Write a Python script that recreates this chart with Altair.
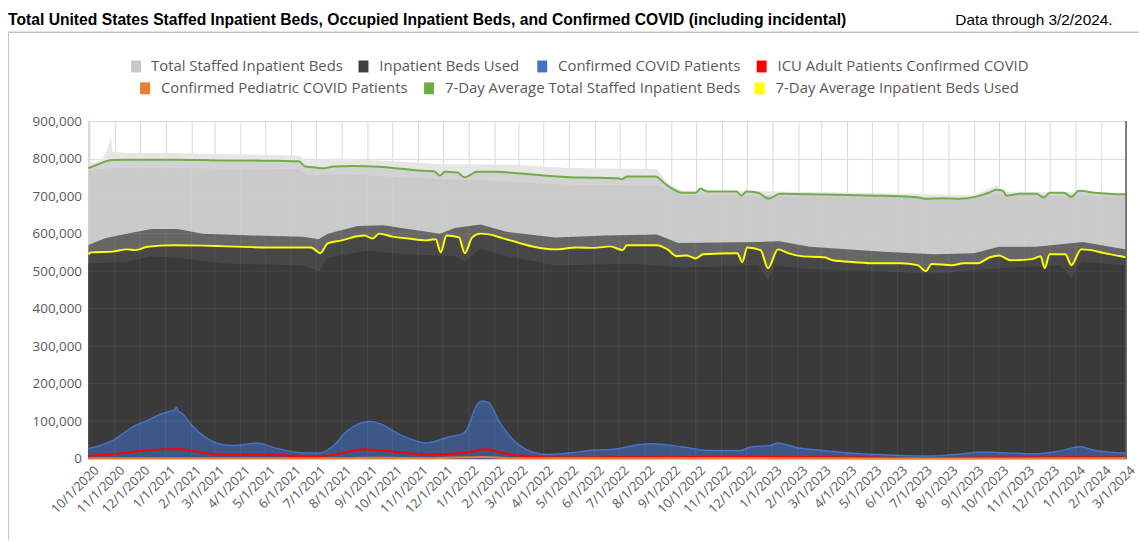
import altair as alt
import pandas as pd

# ---------------- text ----------------
TITLE = "Total United States Staffed Inpatient Beds, Occupied Inpatient Beds, and Confirmed COVID (including incidental)"
NOTE = "Data through 3/2/2024."
LEGEND_LABELS = [
    "Total Staffed Inpatient Beds", "Inpatient Beds Used", "Confirmed COVID Patients",
    "ICU Adult Patients Confirmed COVID", "Confirmed Pediatric COVID Patients",
    "7-Day Average Total Staffed Inpatient Beds", "7-Day Average Inpatient Beds Used",
]
TICK_DATES = [
    "2020-10-01", "2020-11-01", "2020-12-01", "2021-01-01", "2021-02-01", "2021-03-01",
    "2021-04-01", "2021-05-01", "2021-06-01", "2021-07-01", "2021-08-01", "2021-09-01",
    "2021-10-01", "2021-11-01", "2021-12-01", "2022-01-01", "2022-02-01", "2022-03-01",
    "2022-04-01", "2022-05-01", "2022-06-01", "2022-07-01", "2022-08-01", "2022-09-01",
    "2022-10-01", "2022-11-01", "2022-12-01", "2023-01-01", "2023-02-01", "2023-03-01",
    "2023-04-01", "2023-05-01", "2023-06-01", "2023-07-01", "2023-08-01", "2023-09-01",
    "2023-10-01", "2023-11-01", "2023-12-01", "2024-01-01", "2024-02-01", "2024-03-01",
]
Y_TICKS = [0, 100000, 200000, 300000, 400000, 500000, 600000, 700000, 800000, 900000]
X_DOMAIN = ["2020-09-30", "2024-03-02"]

# ---------------- data (thousands of beds) ----------------
TOTAL_HIGH = [
    ("2020-09-30", 785), ("2020-10-15", 795), ("2020-10-22", 820), ("2020-10-25", 840),
    ("2020-10-27", 860), ("2020-10-29", 818), ("2020-11-15", 815), ("2021-01-15", 815),
    ("2021-03-01", 812), ("2021-06-10", 808), ("2021-06-20", 795), ("2021-08-01", 800),
    ("2021-10-01", 793), ("2021-12-01", 785), ("2022-01-15", 785), ("2022-03-01", 783),
    ("2022-05-01", 775), ("2022-08-15", 772), ("2022-08-28", 735), ("2022-09-15", 714),
    ("2022-10-01", 713), ("2022-12-15", 713), ("2023-06-15", 706), ("2023-09-01", 702),
    ("2023-09-28", 728), ("2023-10-10", 712), ("2024-03-02", 709),
]
TOTAL_LOW = [
    ("2020-09-30", 770), ("2020-11-01", 775), ("2021-06-10", 772), ("2021-06-20", 755),
    ("2021-08-01", 758), ("2021-12-01", 745), ("2022-01-15", 742), ("2022-05-01", 730),
    ("2022-08-15", 728), ("2022-09-15", 703), ("2023-06-15", 697), ("2023-08-15", 690),
    ("2023-10-01", 705), ("2024-03-02", 698),
]
TOTAL_AVG7 = [
    ("2020-09-30", 775), ("2020-10-10", 783), ("2020-10-28", 796), ("2020-11-15", 797),
    ("2020-12-15", 797), ("2021-01-15", 797), ("2021-02-15", 796), ("2021-03-15", 795),
    ("2021-04-15", 795), ("2021-05-15", 794), ("2021-06-10", 793), ("2021-06-18", 779),
    ("2021-07-01", 776), ("2021-07-10", 774), ("2021-07-22", 779), ("2021-08-15", 780),
    ("2021-09-15", 778), ("2021-10-15", 772), ("2021-11-10", 767), ("2021-11-20", 766),
    ("2021-11-27", 755), ("2021-12-03", 765), ("2021-12-18", 763), ("2021-12-27", 750),
    ("2022-01-03", 757), ("2022-01-10", 765), ("2022-02-01", 765), ("2022-03-01", 761),
    ("2022-04-01", 755), ("2022-05-01", 750), ("2022-06-01", 749), ("2022-07-01", 747),
    ("2022-07-04", 745), ("2022-07-10", 752), ("2022-08-13", 752), ("2022-08-28", 728),
    ("2022-09-15", 709), ("2022-10-01", 709), ("2022-10-07", 720), ("2022-10-15", 712),
    ("2022-11-19", 712), ("2022-11-25", 701), ("2022-12-01", 712), ("2022-12-15", 709),
    ("2022-12-28", 693), ("2023-01-10", 706), ("2023-02-15", 705), ("2023-04-01", 703),
    ("2023-05-15", 701), ("2023-06-25", 697), ("2023-07-04", 693), ("2023-07-25", 694),
    ("2023-08-14", 693), ("2023-09-02", 698), ("2023-09-19", 709), ("2023-09-28", 717),
    ("2023-10-06", 714), ("2023-10-10", 701), ("2023-10-25", 706), ("2023-11-15", 706),
    ("2023-11-24", 696), ("2023-12-01", 709), ("2023-12-18", 709), ("2023-12-27", 698),
    ("2024-01-05", 714), ("2024-01-25", 709), ("2024-03-02", 704),
]
USED_HIGH = [
    ("2020-09-30", 570), ("2020-10-20", 588), ("2020-11-15", 600), ("2020-12-15", 612),
    ("2021-01-15", 612), ("2021-02-15", 600), ("2021-04-15", 595), ("2021-06-15", 592),
    ("2021-07-04", 585), ("2021-07-15", 600), ("2021-08-20", 620), ("2021-09-20", 622),
    ("2021-10-20", 612), ("2021-11-27", 600), ("2021-12-15", 615), ("2022-01-15", 624),
    ("2022-02-15", 605), ("2022-04-15", 590), ("2022-06-15", 595), ("2022-08-15", 598),
    ("2022-09-10", 575), ("2022-12-15", 578), ("2023-01-10", 580), ("2023-02-15", 565),
    ("2023-05-15", 552), ("2023-07-15", 545), ("2023-09-01", 548), ("2023-10-01", 565),
    ("2023-11-15", 565), ("2024-01-10", 578), ("2024-03-02", 558),
]
USED_LOW = [
    ("2020-09-30", 520), ("2020-11-15", 525), ("2020-12-15", 540), ("2021-01-15", 535),
    ("2021-03-15", 520), ("2021-06-15", 515), ("2021-07-05", 500), ("2021-07-15", 535),
    ("2021-09-01", 555), ("2021-10-15", 545), ("2021-12-15", 540), ("2021-12-27", 525),
    ("2022-01-15", 560), ("2022-02-15", 540), ("2022-04-15", 515), ("2022-07-15", 520),
    ("2022-09-15", 510), ("2022-12-15", 515), ("2022-12-27", 475), ("2023-01-05", 515),
    ("2023-02-15", 505), ("2023-05-15", 500), ("2023-07-15", 493), ("2023-09-15", 505),
    ("2023-10-15", 510), ("2023-12-15", 515), ("2023-12-27", 480), ("2024-01-05", 520),
    ("2024-01-10", 525), ("2024-03-02", 515),
]
USED_AVG7 = [
    ("2020-09-30", 545), ("2020-10-03", 550), ("2020-10-29", 552), ("2020-11-15", 558),
    ("2020-11-26", 556), ("2020-12-10", 565), ("2021-01-10", 569), ("2021-02-15", 568),
    ("2021-03-15", 566), ("2021-04-15", 564), ("2021-05-15", 563), ("2021-06-25", 563),
    ("2021-07-06", 548), ("2021-07-15", 574), ("2021-08-01", 582), ("2021-08-20", 593),
    ("2021-08-28", 595), ("2021-09-07", 587), ("2021-09-15", 600), ("2021-10-01", 592),
    ("2021-10-20", 587), ("2021-11-10", 582), ("2021-11-22", 585), ("2021-11-28", 550),
    ("2021-12-05", 595), ("2021-12-20", 590), ("2021-12-27", 548), ("2022-01-05", 590),
    ("2022-01-15", 600), ("2022-01-25", 598), ("2022-02-10", 588), ("2022-03-01", 576),
    ("2022-03-20", 565), ("2022-04-15", 558), ("2022-05-10", 563), ("2022-06-01", 562),
    ("2022-06-20", 566), ("2022-07-05", 556), ("2022-07-10", 569), ("2022-08-15", 569),
    ("2022-08-28", 558), ("2022-09-08", 540), ("2022-09-20", 542), ("2022-10-01", 534),
    ("2022-10-10", 545), ("2022-11-20", 548), ("2022-11-26", 524), ("2022-12-02", 563),
    ("2022-12-18", 556), ("2022-12-27", 508), ("2023-01-08", 558), ("2023-01-20", 548),
    ("2023-02-05", 540), ("2023-03-05", 537), ("2023-03-15", 529), ("2023-04-10", 524),
    ("2023-05-05", 521), ("2023-06-05", 521), ("2023-06-25", 516), ("2023-07-05", 500),
    ("2023-07-12", 519), ("2023-08-05", 516), ("2023-08-20", 521), ("2023-09-05", 521),
    ("2023-09-20", 537), ("2023-10-01", 542), ("2023-10-15", 529), ("2023-11-10", 532),
    ("2023-11-20", 540), ("2023-11-25", 508), ("2023-12-01", 545), ("2023-12-20", 545),
    ("2023-12-27", 516), ("2024-01-08", 558), ("2024-01-20", 556), ("2024-02-05", 548),
    ("2024-03-02", 537),
]
COVID = [
    ("2020-09-30", 27), ("2020-10-15", 36), ("2020-10-29", 48), ("2020-11-10", 66),
    ("2020-11-22", 84), ("2020-12-09", 101), ("2020-12-25", 118), ("2021-01-06", 126),
    ("2021-01-12", 131), ("2021-01-14", 138), ("2021-01-16", 128), ("2021-01-22", 118),
    ("2021-02-02", 88), ("2021-02-18", 57), ("2021-03-06", 40), ("2021-03-23", 35),
    ("2021-04-21", 41), ("2021-05-19", 25), ("2021-06-12", 16), ("2021-07-06", 15),
    ("2021-07-22", 35), ("2021-08-08", 75), ("2021-08-24", 95), ("2021-09-04", 99),
    ("2021-09-16", 93), ("2021-10-10", 64), ("2021-11-11", 42), ("2021-12-08", 58),
    ("2021-12-24", 66), ("2021-12-29", 76), ("2022-01-10", 141), ("2022-01-17", 154),
    ("2022-01-25", 149), ("2022-02-06", 101), ("2022-02-22", 53), ("2022-03-18", 18),
    ("2022-04-07", 11), ("2022-05-05", 16), ("2022-05-26", 22), ("2022-06-27", 26),
    ("2022-07-25", 38), ("2022-08-11", 40), ("2022-09-16", 31), ("2022-10-15", 22),
    ("2022-11-24", 22), ("2022-12-06", 31), ("2022-12-30", 35), ("2023-01-08", 42),
    ("2023-01-31", 29), ("2023-03-03", 22), ("2023-04-01", 16), ("2023-05-10", 11),
    ("2023-07-08", 7), ("2023-08-08", 11), ("2023-09-13", 18), ("2023-10-06", 16),
    ("2023-11-14", 13), ("2023-12-12", 20), ("2024-01-07", 32), ("2024-01-25", 22),
    ("2024-03-02", 15),
]
ICU_ADULT = [
    ("2020-09-30", 8), ("2020-10-29", 12), ("2020-11-27", 19), ("2020-12-09", 22),
    ("2021-01-10", 26), ("2021-01-20", 25), ("2021-02-10", 18), ("2021-03-06", 11),
    ("2021-04-21", 11), ("2021-05-19", 9), ("2021-06-30", 5), ("2021-07-28", 13),
    ("2021-08-28", 25), ("2021-09-16", 22), ("2021-10-10", 17), ("2021-11-11", 11),
    ("2021-12-29", 16), ("2022-01-20", 25), ("2022-02-14", 13), ("2022-03-18", 5),
    ("2022-04-15", 3), ("2022-08-01", 4), ("2022-12-30", 5), ("2023-02-15", 4),
    ("2023-07-01", 2), ("2024-01-07", 4), ("2024-03-02", 3),
]
PEDIATRIC = [
    ("2020-09-30", 1), ("2021-08-01", 1.5), ("2021-09-10", 2.5), ("2021-11-15", 1.5),
    ("2022-01-18", 4.5), ("2022-02-20", 1.5), ("2022-06-01", 1), ("2022-11-15", 2),
    ("2023-01-10", 1.5), ("2023-06-01", 0.8), ("2024-03-02", 1),
]

# ---------------- styling ----------------
C_GRAY, C_DARK, C_BLUE, C_RED = "#cacaca", "#3a3a3a", "#4472c4", "#ff0000"
C_ORANGE, C_GREEN, C_YELLOW = "#ed7d31", "#70ad47", "#ffff00"
LEGEND_COLORS = ["#c8c8c8", "#404040", C_BLUE, C_RED, C_ORANGE, C_GREEN, C_YELLOW]
FONT = "Open Sans"
W, H = 1045, 340
PAD_L, PAD_T = 81, 112


def frame(pairs):
    df = pd.DataFrame(pairs, columns=["date", "v"])
    df["v"] = df["v"] * 1000
    return df


def dt(s):
    y, m, d = (int(p) for p in s.split("-"))
    return alt.DateTime(year=y, month=m, date=d, utc=True)


x_enc = alt.X(
    "date:T",
    scale=alt.Scale(type="utc", domain=[dt(s) for s in X_DOMAIN]),
    axis=alt.Axis(
        values=[dt(s) for s in TICK_DATES],
        labelExpr="utcFormat(datum.value, '%-m/%-d/%Y')",
        labelAngle=-45, labelAlign="right", labelBaseline="top", labelOverlap=False,
        labelBound=False, labelFlush=False, labelFont=FONT, labelFontSize=13,
        labelColor="#595959", labelPadding=5, labelOffset=3, ticks=False,
        grid=True, gridColor="#d9d9d9", domainColor="#bfbfbf", title=None,
    ),
)
y_enc = alt.Y(
    "v:Q",
    scale=alt.Scale(domain=[0, 900000], nice=False, zero=True),
    axis=alt.Axis(
        values=Y_TICKS, labelExpr="format(datum.value, ',')", labelFont=FONT, labelFontSize=13.5,
        labelColor="#595959", labelPadding=7, ticks=False, grid=True,
        gridColor="#d9d9d9", domainColor="#bfbfbf", title=None,
    ),
)


def area(pairs, color, interp="linear", **kw):
    return alt.Chart(frame(pairs)).mark_area(color=color, interpolate=interp, **kw).encode(x=x_enc, y=y_enc)


def line(pairs, color, width=2):
    return alt.Chart(frame(pairs)).mark_line(color=color, strokeWidth=width, interpolate="monotone").encode(x=x_enc, y=y_enc)


layers = [
    area(TOTAL_HIGH, "#e6e6e6"),
    area(TOTAL_AVG7, "#d2d2d2"),
    area(TOTAL_LOW, C_GRAY),
    area(USED_HIGH, "#666666"),
    area(USED_AVG7, "#474747"),
    area(USED_LOW, C_DARK),
    area(COVID, "#3f64a6", "monotone", line={"color": C_BLUE, "strokeWidth": 1.5}),
]

grid_x = pd.DataFrame({"date": TICK_DATES})
grid_y = pd.DataFrame({"v": Y_TICKS})
layers.append(alt.Chart(grid_x).mark_rule(color="white", opacity=0.07).encode(x=x_enc))
layers.append(alt.Chart(grid_y).mark_rule(color="white", opacity=0.07).encode(y=y_enc))

layers += [
    line(ICU_ADULT, C_RED),
    line(PEDIATRIC, C_ORANGE),
    line(TOTAL_AVG7, C_GREEN),
    line(USED_AVG7, C_YELLOW),
]

edge = pd.DataFrame({"date": [X_DOMAIN[1]], "v": [0], "v2": [900000]})
layers.append(alt.Chart(edge).mark_rule(color="#595959", strokeWidth=1.5).encode(x=x_enc, y=y_enc, y2="v2:Q"))

one = alt.Data(values=[{"k": 0}])


def px(page_x):
    return page_x - 8 - PAD_L


def py(page_y):
    return page_y - 8 - PAD_T


layers.append(alt.Chart(one).mark_text(text=TITLE, font="Liberation Sans", fontSize=15.8, fontWeight="bold",
                                       align="left", baseline="middle", color="#000000")
              .encode(x=alt.value(px(8)), y=alt.value(py(18))))
layers.append(alt.Chart(one).mark_text(text=NOTE, font="Liberation Sans", fontSize=15.5,
                                       align="left", baseline="middle", color="#000000")
              .encode(x=alt.value(px(962)), y=alt.value(py(18))))
layers.append(alt.Chart(one).mark_rule(color="#a6a6a6", strokeWidth=1)
              .encode(x=alt.value(px(8)), x2=alt.value(px(1147)), y=alt.value(py(30.5))))
layers.append(alt.Chart(one).mark_rule(color="#c8c8c8", strokeWidth=1)
              .encode(x=alt.value(px(8.5)), y=alt.value(py(30)), y2=alt.value(py(542))))

LEGEND_LAYOUT = [  # (square left x, text x, centre y) in page pixels
    (132, 152, 65), (361, 382, 65), (541, 562, 65), (762, 783, 65),
    (141, 162, 87), (427, 448, 87), (760, 781, 87),
]
for label, color, (sx, tx, cy) in zip(LEGEND_LABELS, LEGEND_COLORS, LEGEND_LAYOUT):
    layers.append(alt.Chart(one).mark_rect(color=color)
                  .encode(x=alt.value(px(sx)), x2=alt.value(px(sx + 10)),
                          y=alt.value(py(cy - 6)), y2=alt.value(py(cy + 6))))
    layers.append(alt.Chart(one).mark_text(text=label, font=FONT, fontSize=15, color="#595959",
                                           align="left", baseline="middle")
                  .encode(x=alt.value(px(tx)), y=alt.value(py(cy))))

chart = alt.layer(*layers).properties(
    width=W, height=H,
    autosize=alt.AutoSizeParams(type="none"),
    padding={"left": PAD_L, "top": PAD_T, "right": 1139 - PAD_L - W, "bottom": 534 - PAD_T - H},
    background="white",
).configure_view(stroke=None)

chart.save("out.html", embed_options={"renderer": "svg", "actions": False})
